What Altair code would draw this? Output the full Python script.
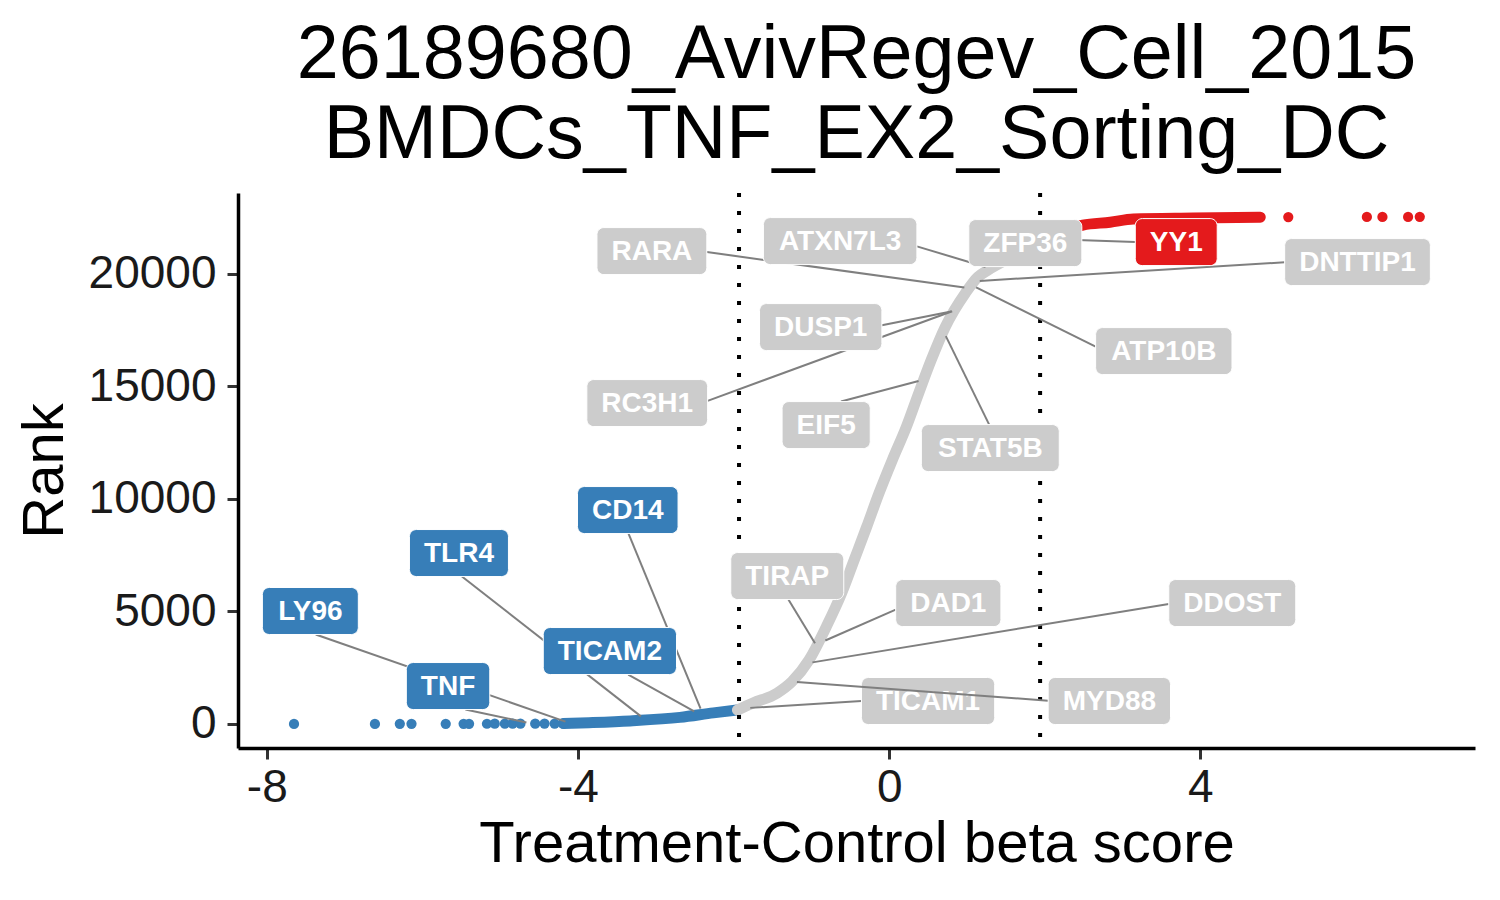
import altair as alt
import pandas as pd

# ---------------- data ----------------
title_lines = ["26189680_AvivRegev_Cell_2015", "BMDCs_TNF_EX2_Sorting_DC"]
x_title = "Treatment-Control beta score"
y_title = "Rank"
x_ticks = [-8, -4, 0, 4]
y_ticks = [0, 5000, 10000, 15000, 20000]
cutoffs = [-1.93, 1.94]

# sparse blue genes at the far left
blue_dot_score = [-7.65, -6.61, -6.29, -6.14, -5.70, -5.47, -5.40, -5.17,
                  -5.07, -4.94, -4.84, -4.74, -4.55, -4.43, -4.30, -4.19]
blue_dot_rank = [1, 2, 3, 4, 5, 6, 7, 8, 9, 10, 11, 12, 13, 14, 15, 16]

# dense part of the ranked curve (score, rank) read along the band
blue_curve_score = [-4.19, -3.97, -3.33, -2.69, -2.26, -1.95]
blue_curve_rank = [17, 45, 135, 290, 490, 620]

gray_curve_score = [-1.95, -1.75, -1.44, -1.25, -1.03, -0.81, -0.61, -0.45,
                    -0.29, -0.13, 0.04, 0.22, 0.38, 0.54, 0.72, 0.98, 1.14,
                    1.27, 1.55, 1.94]
gray_curve_rank = [620, 929, 1373, 1880, 2840, 4307, 5818, 7284, 8751, 10262,
                   11729, 13196, 14707, 16173, 17640, 19151, 19862, 20173,
                   20707, 21330]

red_curve_score = [1.94, 2.49, 2.84, 3.14, 3.91, 4.77]
red_curve_rank = [21330, 22173, 22300, 22440, 22484, 22525]

# sparse red genes at the far right
red_dot_score = [5.13, 6.14, 6.34, 6.67, 6.82]
red_dot_rank = [22533, 22536, 22537, 22538, 22539]

# labelled genes
label_gene = ["LY96", "TNF", "TLR4", "CD14", "TICAM2", "TIRAP", "DAD1", "DDOST",
              "TICAM1", "MYD88", "EIF5", "STAT5B", "DUSP1", "RC3H1", "RARA",
              "ATP10B", "DNTTIP1", "ATXN7L3", "ZFP36", "YY1"]
label_score = [-4.10, -4.60, -3.14, -2.40, -2.45, -0.92, -0.88, -1.05,
               -1.85, -1.25, 0.44, 0.70, 0.86, 0.87, 1.03,
               1.06, 1.10, 1.30, 1.75, 2.07]
label_rank = [28, 20, 200, 480, 450, 3400, 3620, 2700,
              700, 1880, 15300, 17440, 18380, 18420, 19370,
              19500, 19680, 20250, 21040, 21550]
label_group = ["down", "down", "down", "down", "down", "none", "none", "none",
               "none", "none", "none", "none", "none", "none", "none",
               "none", "none", "none", "none", "up"]
# repelled label positions (data coordinates of the label centres)
label_pos_x = [-7.44, -5.67, -5.53, -3.36, -3.59, -1.31, 0.76, 4.41,
               0.50, 2.83, -0.81, 1.30, -0.88, -3.11, -3.05,
               3.53, 6.02, -0.63, 1.75, 3.69]
label_pos_y = [5020, 1684, 7596, 9507, 3240, 6573, 5373, 5373,
               1018, 1018, 13284, 12262, 17640, 14262, 21018,
               16573, 20529, 21462, 21373, 21418]
label_front = ["TNF", "TICAM2", "MYD88", "ZFP36"]

# ---------------- layout / style ----------------
W, H = 1237, 555
XDOM = [-8.37, 7.53]
YDOM = [-1070, 23600]
COLORS = {"down": "#377EB8", "none": "#CCCCCC", "up": "#E41A1C"}
FONT = "Liberation Sans"
LABEL_FONT = 28
BOX_PAD = 29
BOX_H = 47
END_GAP = 5

CHAR_EM = {"A": .722, "B": .722, "C": .722, "D": .722, "E": .667, "F": .611,
           "G": .778, "H": .722, "I": .278, "K": .722, "L": .611, "M": .833,
           "N": .722, "O": .778, "P": .667, "R": .722, "S": .667, "T": .611,
           "U": .722, "V": .667, "X": .667, "Y": .667, "Z": .611}

XR = XDOM[1] - XDOM[0]
YR = YDOM[1] - YDOM[0]


def text_px(s):
    return sum(CHAR_EM.get(c, 0.556) for c in s) * LABEL_FONT


def connection(p, b):
    """ggrepel-style attachment point of a segment on a label box (npc units)."""
    x1, y1, x2, y2 = b
    left = right = top = bottom = False
    if x1 <= p[0] <= x2:
        qx = p[0]
    elif p[0] > x2:
        qx, right = x2, True
    else:
        qx, left = x1, True
    if y1 <= p[1] <= y2:
        qy = p[1]
    elif p[1] > y2:
        qy, top = y2, True
    else:
        qy, bottom = y1, True
    mx, my = (x1 + x2) / 2, (y1 + y2) / 2
    d = ((p[0] - qx) ** 2 + (p[1] - qy) ** 2) ** 0.5
    tb, lr = top or bottom, left or right
    if tb and not lr:
        alt_d = ((p[0] - mx) ** 2 + (p[1] - qy) ** 2) ** 0.5
        qx = qx + (mx - qx) * d / alt_d
    elif lr and not tb:
        alt_d = ((p[0] - qx) ** 2 + (p[1] - my) ** 2) ** 0.5
        qy = qy + (my - qy) * d / alt_d
    elif lr and tb:
        a1 = ((p[0] - mx) ** 2 + (p[1] - qy) ** 2) ** 0.5
        a2 = ((p[0] - qx) ** 2 + (p[1] - my) ** 2) ** 0.5
        if a1 < a2:
            qx = qx + (mx - qx) * d / a1
        else:
            qy = qy + (my - qy) * d / a2
    return qx, qy, (tb or lr)


rows = []
for g, sc, rk, grp, lx, ly in zip(label_gene, label_score, label_rank,
                                  label_group, label_pos_x, label_pos_y):
    hw = (text_px(g) + BOX_PAD) / 2 / W * XR
    hh = BOX_H / 2 / H * YR
    nb = ((lx - hw - XDOM[0]) / XR, (ly - hh - YDOM[0]) / YR,
          (lx + hw - XDOM[0]) / XR, (ly + hh - YDOM[0]) / YR)
    npt = ((sc - XDOM[0]) / XR, (rk - YDOM[0]) / YR)
    qx, qy, outside = connection(npt, nb)
    dxp = (npt[0] - qx) * W
    dyp = (npt[1] - qy) * H
    dist = (dxp ** 2 + dyp ** 2) ** 0.5
    f = max(dist - END_GAP, 0) / dist if dist > 0 else 0
    sx, sy = XDOM[0] + qx * XR, YDOM[0] + qy * YR
    rows.append(dict(gene=g, group=grp, lx=lx, ly=ly,
                     bx1=lx - hw, bx2=lx + hw, by1=ly - hh, by2=ly + hh,
                     sx=sx, sy=sy,
                     ex=sx + (sc - sx) * f, ey=sy + (rk - sy) * f,
                     seg=outside and dist > END_GAP + 4,
                     front=g in label_front))
labels = pd.DataFrame(rows)

x_axis = alt.Axis(values=x_ticks, title=x_title, grid=False,
                  labelExpr="'' + datum.value",
                  domainColor="black", domainWidth=3.5,
                  tickColor="#333333", tickWidth=3, tickSize=11,
                  labelFont=FONT, labelFontSize=46, labelColor="#1A1A1A",
                  labelPadding=6, labelFlush=False,
                  titleFont=FONT, titleFontSize=58, titleFontWeight="normal",
                  titleColor="black", titlePadding=5)
y_axis = alt.Axis(values=y_ticks, title=y_title, grid=False,
                  labelExpr="'' + datum.value",
                  domainColor="black", domainWidth=3.5,
                  tickColor="#333333", tickWidth=3, tickSize=11,
                  labelFont=FONT, labelFontSize=46, labelColor="#1A1A1A",
                  labelPadding=11, labelFlush=False,
                  titleFont=FONT, titleFontSize=58, titleFontWeight="normal",
                  titleColor="black", titlePadding=14)

xs = alt.Scale(domain=XDOM, nice=False, zero=False)
ys = alt.Scale(domain=YDOM, nice=False, zero=False)


def X(f):
    return alt.X(f, type="quantitative", scale=xs, axis=x_axis)


def Y(f):
    return alt.Y(f, type="quantitative", scale=ys, axis=y_axis)


def curve(scores, ranks, color):
    df = pd.DataFrame({"score": scores, "rank": ranks})
    return alt.Chart(df).mark_line(color=color, strokeWidth=11, strokeCap="round",
                                   strokeJoin="round", interpolate="monotone").encode(
        x=X("score"), y=Y("rank"), order="score:Q")


def dots(scores, ranks, color):
    df = pd.DataFrame({"score": scores, "rank": ranks})
    return alt.Chart(df).mark_circle(color=color, size=105, opacity=1).encode(
        x=X("score"), y=Y("rank"))


vlines = alt.Chart(pd.DataFrame({"v": cutoffs})).mark_rule(
    color="black", strokeWidth=4, strokeDash=[4, 14]).encode(x=X("v"))


def label_layers(df):
    seg = alt.Chart(df[df["seg"]]).mark_rule(color="#7F7F7F", strokeWidth=2).encode(
        x=X("sx"), y=Y("sy"), x2="ex", y2="ey")
    box = alt.Chart(df).mark_rect(cornerRadius=7, stroke="white", strokeWidth=1).encode(
        x=X("bx1"), x2="bx2", y=Y("by1"), y2="by2",
        fill=alt.Fill("group:N", scale=alt.Scale(domain=list(COLORS.keys()),
                                                 range=list(COLORS.values())),
                      legend=None))
    txt = alt.Chart(df).mark_text(font=FONT, fontWeight="bold", fontSize=LABEL_FONT,
                                  color="white", align="center", baseline="middle",
                                  dy=1).encode(
        x=X("lx"), y=Y("ly"), text="gene:N")
    return [seg, box, txt]


back = labels[~labels["front"]]
front = labels[labels["front"]]

layers = [
    curve(blue_curve_score, blue_curve_rank, COLORS["down"]),
    dots(blue_dot_score, blue_dot_rank, COLORS["down"]),
    curve(gray_curve_score, gray_curve_rank, COLORS["none"]),
    curve(red_curve_score, red_curve_rank, COLORS["up"]),
    dots(red_dot_score, red_dot_rank, COLORS["up"]),
    vlines,
] + label_layers(back) + label_layers(front)

chart = alt.layer(*layers).properties(
    width=W, height=H,
    background="white",
    title=alt.TitleParams(text=title_lines, fontSize=75.5, font=FONT,
                          fontWeight="normal", color="black", anchor="middle",
                          offset=18, lineHeight=80, frame="group"),
    autosize=alt.AutoSizeParams(type="none"),
    padding={"left": 230, "top": 185, "right": 17, "bottom": 144},
).configure_view(stroke=None)

chart.save("out.html", embed_options={"renderer": "svg", "actions": False})
